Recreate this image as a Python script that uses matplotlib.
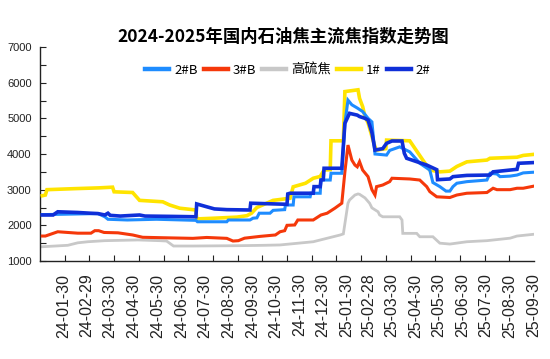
import matplotlib
matplotlib.use("Agg")
import matplotlib.pyplot as plt
from matplotlib.ticker import MultipleLocator, FixedLocator
import matplotlib.dates as mdates
import numpy as np
import pandas as pd

plt.rcParams["font.family"] = ["Liberation Sans", "DejaVu Sans"]
CJK = ["Noto Sans CJK SC", "DejaVu Sans"]

TITLE = "2024-2025年国内石油焦主流焦指数走势图"

# 2#B
b2_dates = ["2024-01-02", "2024-03-14", "2024-03-23", "2024-03-27", "2024-04-21", "2024-05-29",
            "2024-07-19", "2024-07-21", "2024-08-28", "2024-08-30", "2024-09-27", "2024-10-01",
            "2024-10-06", "2024-10-09", "2024-10-23", "2024-10-27", "2024-11-11", "2024-11-12",
            "2024-11-22", "2024-11-23", "2024-12-14", "2024-12-15", "2024-12-27", "2024-12-28",
            "2025-01-09", "2025-01-10", "2025-01-24", "2025-01-28", "2025-02-01", "2025-02-06",
            "2025-02-13", "2025-02-20", "2025-02-27", "2025-03-04", "2025-03-08", "2025-03-23",
            "2025-03-27", "2025-04-09", "2025-04-22", "2025-05-05", "2025-05-18", "2025-05-22",
            "2025-05-31", "2025-06-08", "2025-06-13", "2025-06-17", "2025-06-22", "2025-07-05",
            "2025-07-31", "2025-08-04", "2025-08-13", "2025-08-17", "2025-08-30", "2025-09-08",
            "2025-09-16", "2025-09-30"]
b2_vals = [2300, 2330, 2240, 2170, 2150, 2170,
           2140, 2100, 2100, 2150, 2150, 2200,
           2210, 2340, 2340, 2420, 2440, 2570,
           2570, 2800, 2800, 2900, 2900, 3270,
           3270, 3460, 3460, 4860, 5510, 5380,
           5290, 5190, 5000, 4900, 4000, 3970,
           4100, 4200, 4060, 3740, 3550, 3200,
           3085, 2960, 2960, 3085, 3180, 3225,
           3270, 3460, 3440, 3365, 3380, 3410,
           3470, 3490]

# 3#B
b3_dates = ["2024-01-02", "2024-01-06", "2024-01-22", "2024-02-17", "2024-03-05", "2024-03-10",
            "2024-03-15", "2024-03-22", "2024-04-09", "2024-04-28", "2024-05-11", "2024-06-11",
            "2024-07-15", "2024-08-02", "2024-08-28", "2024-09-05", "2024-09-12", "2024-09-20",
            "2024-10-10", "2024-10-30", "2024-11-05", "2024-11-11", "2024-11-14", "2024-11-24",
            "2024-11-28", "2024-12-18", "2024-12-28", "2025-01-05", "2025-01-15", "2025-01-24",
            "2025-01-28", "2025-02-01", "2025-02-06", "2025-02-10", "2025-02-13", "2025-02-16",
            "2025-02-20", "2025-02-27", "2025-03-04", "2025-03-08", "2025-03-10", "2025-03-18",
            "2025-03-27", "2025-03-30", "2025-04-22", "2025-05-05", "2025-05-14", "2025-05-18",
            "2025-05-27", "2025-06-13", "2025-06-22", "2025-07-05", "2025-07-31", "2025-08-08",
            "2025-08-13", "2025-08-30", "2025-09-08", "2025-09-16", "2025-09-30"]
b3_vals = [1700, 1700, 1820, 1780, 1780, 1850,
           1850, 1800, 1790, 1730, 1665, 1650,
           1635, 1660, 1635, 1560, 1570, 1640,
           1690, 1730, 1820, 1850, 2000, 2010,
           2150, 2150, 2290, 2340, 2480, 2620,
           3500, 4250, 3830, 3690, 3640, 3785,
           3550, 3365, 3000, 2850, 3085, 3130,
           3225, 3320, 3300, 3270, 3085, 2945,
           2800, 2780, 2850, 2900, 2920, 3040,
           3000, 3000, 3040, 3040, 3100]

# 高硫焦
hs_dates = ["2024-01-02", "2024-02-04", "2024-02-17", "2024-03-01", "2024-03-23", "2024-05-05",
            "2024-06-02", "2024-06-11", "2024-06-20", "2024-07-15", "2024-09-15", "2024-10-15",
            "2024-11-05", "2024-12-18", "2025-01-22", "2025-01-26", "2025-02-01", "2025-02-03",
            "2025-02-10", "2025-02-14", "2025-02-16", "2025-02-23", "2025-03-01", "2025-03-04",
            "2025-03-12", "2025-03-14", "2025-03-18", "2025-04-09", "2025-04-12", "2025-04-13",
            "2025-05-01", "2025-05-05", "2025-05-22", "2025-05-31", "2025-06-13", "2025-07-05",
            "2025-07-31", "2025-08-30", "2025-09-08", "2025-09-30"]
hs_vals = [1400, 1440, 1510, 1540, 1570, 1590,
           1570, 1560, 1420, 1420, 1430, 1440,
           1450, 1540, 1730, 1760, 2620, 2710,
           2850, 2880, 2870, 2770, 2620, 2490,
           2380, 2290, 2240, 2240, 2150, 1775,
           1775, 1680, 1680, 1500, 1475, 1540,
           1570, 1640, 1700, 1750]

# 1#
n1_dates = ["2024-01-02", "2024-01-06", "2024-01-08", "2024-02-15", "2024-03-15", "2024-04-02",
            "2024-04-04", "2024-04-28", "2024-05-07", "2024-06-06", "2024-06-15", "2024-06-28",
            "2024-07-19", "2024-07-20", "2024-08-12", "2024-09-10", "2024-09-23", "2024-09-29",
            "2024-10-06", "2024-10-27", "2024-11-18", "2024-11-22", "2024-12-08", "2024-12-18",
            "2024-12-27", "2025-01-01", "2025-01-09", "2025-01-10", "2025-01-26", "2025-01-28",
            "2025-02-14", "2025-02-16", "2025-02-20", "2025-02-23", "2025-02-27", "2025-03-08",
            "2025-03-10", "2025-03-22", "2025-03-23", "2025-04-22", "2025-05-09", "2025-05-18",
            "2025-05-31", "2025-06-13", "2025-06-22", "2025-07-05", "2025-07-31", "2025-08-04",
            "2025-09-08", "2025-09-16", "2025-09-30"]
n1_vals = [2830, 2850, 3000, 3030, 3050, 3070,
           2940, 2920, 2700, 2660, 2570, 2480,
           2430, 2180, 2200, 2230, 2270, 2340,
           2500, 2700, 2760, 3080, 3180, 3320,
           3370, 3550, 3560, 4370, 4370, 5750,
           5800, 5560, 5330, 5050, 4870, 4200,
           4110, 4150, 4390, 4370, 3830, 3550,
           3500, 3520, 3650, 3780, 3830, 3880,
           3910, 3960, 3990]

# 2#
n2_dates = ["2024-01-02", "2024-01-16", "2024-01-22", "2024-02-17", "2024-03-04", "2024-03-14",
            "2024-03-23", "2024-03-27", "2024-03-30", "2024-04-12", "2024-05-07", "2024-05-14",
            "2024-06-19", "2024-07-19", "2024-07-20", "2024-08-02", "2024-08-12", "2024-08-28",
            "2024-09-27", "2024-09-28", "2024-11-14", "2024-11-15", "2024-11-18", "2024-12-18",
            "2024-12-19", "2024-12-27", "2024-12-28", "2024-12-31", "2025-01-01", "2025-01-24",
            "2025-01-28", "2025-01-31", "2025-02-03", "2025-02-13", "2025-02-16", "2025-02-23",
            "2025-02-27", "2025-03-04", "2025-03-08", "2025-03-18", "2025-03-23", "2025-03-30",
            "2025-04-12", "2025-04-15", "2025-04-18", "2025-05-01", "2025-05-14", "2025-05-27",
            "2025-05-28", "2025-06-13", "2025-06-17", "2025-07-05", "2025-08-04", "2025-08-08",
            "2025-09-08", "2025-09-10", "2025-09-30"]
n2_vals = [2290, 2290, 2380, 2360, 2340, 2330,
           2290, 2340, 2280, 2260, 2290, 2260,
           2250, 2240, 2600, 2520, 2460, 2440,
           2430, 2620, 2590, 2880, 2900, 2900,
           3085, 3085, 3270, 3280, 3600, 3600,
           4860, 5000, 5140, 5090, 5050, 5000,
           4950, 4600, 4110, 4150, 4300, 4365,
           4365, 4020, 3880, 3785, 3690, 3560,
           3280, 3300, 3365, 3400, 3410, 3500,
           3570, 3740, 3760]

label_dates = ["2024-01-30", "2024-02-29", "2024-03-30", "2024-04-30", "2024-05-30", "2024-06-30",
               "2024-07-30", "2024-08-30", "2024-09-30", "2024-10-30", "2024-11-30", "2024-12-30",
               "2025-01-30", "2025-02-28", "2025-03-30", "2025-04-30", "2025-05-30", "2025-06-30",
               "2025-07-30", "2025-08-30", "2025-09-30"]

series = [
    ("2#B", b2_dates, b2_vals, "#1e8cff", 2.2, 4),
    ("3#B", b3_dates, b3_vals, "#f5380a", 2.2, 3),
    ("高硫焦", hs_dates, hs_vals, "#c8c8c8", 2.0, 2),
    ("1#", n1_dates, n1_vals, "#ffe400", 2.6, 3.5),
    ("2#", n2_dates, n2_vals, "#0f2fd8", 2.6, 5),
]

fig = plt.figure(figsize=(5.5, 3.59), dpi=100)
ax = fig.add_axes([40 / 550, 1 - 261 / 359, (534 - 40) / 550, (261 - 47) / 359])

for name, d, v, c, lw, z in series:
    ax.plot(pd.to_datetime(d), v, color=c, lw=lw, zorder=z, label=name,
            solid_joinstyle="miter")

x0 = pd.Timestamp("2023-12-30")
x1 = pd.Timestamp("2025-09-30")
ax.set_xlim(x0, x1)
ax.set_ylim(1000, 7000)

for s in ["top", "right"]:
    ax.spines[s].set_visible(False)
for s in ["left", "bottom"]:
    ax.spines[s].set_linewidth(1.0)
    ax.spines[s].set_color("#222222")

ax.yaxis.set_major_locator(MultipleLocator(1000))
ax.yaxis.set_minor_locator(MultipleLocator(500))
ax.tick_params(axis="y", which="both", direction="in", length=4, width=0.8,
               labelsize=8, pad=6, colors="#222222")

ld = pd.to_datetime(label_dates)
ax.set_xticks(ld)
ax.set_xticklabels([t.strftime("%y-%m-%d") for t in ld], rotation=90, fontsize=11.5)
lo, hi = mdates.date2num(x0), mdates.date2num(x1)
ax.xaxis.set_minor_locator(FixedLocator(np.linspace(lo, hi, 21)[1:]))
ax.tick_params(axis="x", which="major", length=0, pad=9, colors="#222222")
ax.tick_params(axis="x", which="minor", direction="in", length=4, width=0.8, color="#222222")

fig.text(283 / 550, 1 - 37 / 359, TITLE, ha="center", va="center", fontsize=12.5,
         fontweight="bold", family=CJK)

leg = ax.legend(loc="center", bbox_to_anchor=(288 / 550, 1 - 70 / 359),
                bbox_transform=fig.transFigure, ncol=5, frameon=False,
                prop={"family": CJK, "size": 9.5, "weight": "medium"}, handlelength=1.8,
                handletextpad=0.4, columnspacing=0.45)
for h in leg.get_lines():
    h.set_linewidth(3.2)

fig.savefig("out.png", dpi=100)
